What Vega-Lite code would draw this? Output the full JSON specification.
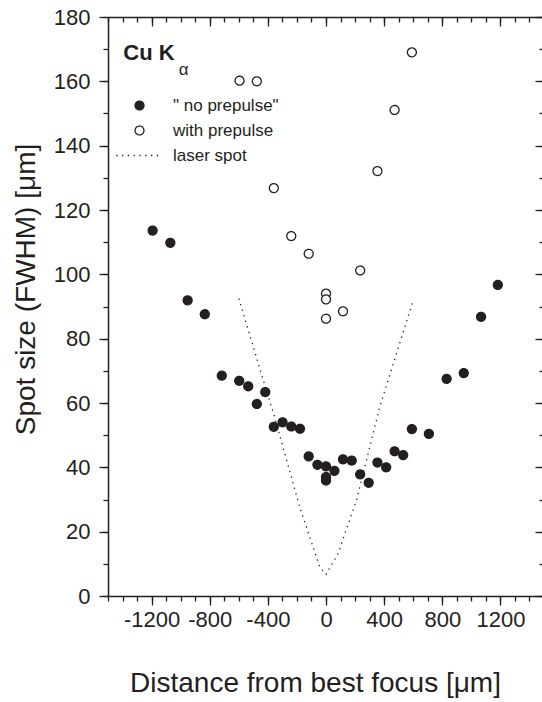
{
  "$schema": "https://vega.github.io/schema/vega-lite/v6.json",
  "width": 436,
  "height": 579,
  "autosize": {"type": "none"},
  "padding": {"left": 108, "top": 17, "right": 0, "bottom": 106},
  "background": "white",
  "config": {
    "view": {"stroke": null},
    "axis": {
      "grid": false,
      "domainColor": "#231f20",
      "tickColor": "#231f20",
      "domainWidth": 1.5,
      "tickWidth": 1.3,
      "labelFont": "Liberation Sans",
      "labelFontSize": 22,
      "labelColor": "#231f20",
      "titleFont": "Liberation Sans",
      "titleFontSize": 28,
      "titleFontWeight": "normal",
      "titleColor": "#231f20",
      "labelFlush": false,
      "labelOverlap": false
    },
    "legend": {
      "orient": "none",
      "legendX": 23,
      "legendY": 80,
      "padding": 0,
      "symbolSize": 80,
      "symbolStrokeColor": "#231f20",
      "symbolStrokeWidth": 1.3,
      "symbolOpacity": 1,
      "labelFont": "Liberation Sans",
      "labelFontSize": 17,
      "labelColor": "#231f20",
      "labelOffset": 25,
      "rowPadding": 7
    }
  },
  "datasets": {
    "pts": [
      {"series": "\" no prepulse\"", "x": -1193, "y": 113.6},
      {"series": "\" no prepulse\"", "x": -1071, "y": 109.8},
      {"series": "\" no prepulse\"", "x": -952, "y": 91.9},
      {"series": "\" no prepulse\"", "x": -834, "y": 87.6},
      {"series": "\" no prepulse\"", "x": -717, "y": 68.5},
      {"series": "\" no prepulse\"", "x": -597, "y": 66.9},
      {"series": "\" no prepulse\"", "x": -535, "y": 65.2},
      {"series": "\" no prepulse\"", "x": -476, "y": 59.7},
      {"series": "\" no prepulse\"", "x": -418, "y": 63.4},
      {"series": "\" no prepulse\"", "x": -359, "y": 52.6},
      {"series": "\" no prepulse\"", "x": -299, "y": 54.0},
      {"series": "\" no prepulse\"", "x": -239, "y": 52.7},
      {"series": "\" no prepulse\"", "x": -179, "y": 52.0},
      {"series": "\" no prepulse\"", "x": -119, "y": 43.4},
      {"series": "\" no prepulse\"", "x": -59, "y": 40.8},
      {"series": "\" no prepulse\"", "x": 0, "y": 40.3},
      {"series": "\" no prepulse\"", "x": 0, "y": 37.0},
      {"series": "\" no prepulse\"", "x": 0, "y": 35.9},
      {"series": "\" no prepulse\"", "x": 58, "y": 38.9},
      {"series": "\" no prepulse\"", "x": 117, "y": 42.5},
      {"series": "\" no prepulse\"", "x": 177, "y": 42.1},
      {"series": "\" no prepulse\"", "x": 235, "y": 37.8},
      {"series": "\" no prepulse\"", "x": 294, "y": 35.2},
      {"series": "\" no prepulse\"", "x": 354, "y": 41.5},
      {"series": "\" no prepulse\"", "x": 414, "y": 40.0},
      {"series": "\" no prepulse\"", "x": 472, "y": 45.0},
      {"series": "\" no prepulse\"", "x": 531, "y": 43.8},
      {"series": "\" no prepulse\"", "x": 591, "y": 51.9},
      {"series": "\" no prepulse\"", "x": 708, "y": 50.4},
      {"series": "\" no prepulse\"", "x": 830, "y": 67.5},
      {"series": "\" no prepulse\"", "x": 948, "y": 69.3},
      {"series": "\" no prepulse\"", "x": 1067, "y": 86.8},
      {"series": "\" no prepulse\"", "x": 1182, "y": 96.7},
      {"series": "\u00a0\u00a0with prepulse", "x": -595, "y": 160.2},
      {"series": "\u00a0\u00a0with prepulse", "x": -476, "y": 160.0},
      {"series": "\u00a0\u00a0with prepulse", "x": -359, "y": 126.8},
      {"series": "\u00a0\u00a0with prepulse", "x": -239, "y": 111.9},
      {"series": "\u00a0\u00a0with prepulse", "x": -119, "y": 106.4},
      {"series": "\u00a0\u00a0with prepulse", "x": 0, "y": 94.0},
      {"series": "\u00a0\u00a0with prepulse", "x": 0, "y": 92.2},
      {"series": "\u00a0\u00a0with prepulse", "x": 0, "y": 86.2},
      {"series": "\u00a0\u00a0with prepulse", "x": 117, "y": 88.5},
      {"series": "\u00a0\u00a0with prepulse", "x": 235, "y": 101.2},
      {"series": "\u00a0\u00a0with prepulse", "x": 354, "y": 132.1},
      {"series": "\u00a0\u00a0with prepulse", "x": 472, "y": 151.1},
      {"series": "\u00a0\u00a0with prepulse", "x": 591, "y": 169.0},
      {"series": "\u00a0\u00a0\u00a0laser spot", "x": -600, "y": 92.5},
      {"series": "\u00a0\u00a0\u00a0laser spot", "x": -411, "y": 64.0},
      {"series": "\u00a0\u00a0\u00a0laser spot", "x": -354, "y": 55.7},
      {"series": "\u00a0\u00a0\u00a0laser spot", "x": -181, "y": 27.7},
      {"series": "\u00a0\u00a0\u00a0laser spot", "x": -43, "y": 9.0},
      {"series": "\u00a0\u00a0\u00a0laser spot", "x": 0, "y": 6.7},
      {"series": "\u00a0\u00a0\u00a0laser spot", "x": 83, "y": 13.2},
      {"series": "\u00a0\u00a0\u00a0laser spot", "x": 210, "y": 29.8},
      {"series": "\u00a0\u00a0\u00a0laser spot", "x": 370, "y": 58.8},
      {"series": "\u00a0\u00a0\u00a0laser spot", "x": 600, "y": 92.0}
    ]
  },
  "data": {"name": "pts"},
  "resolve": {"axis": {"x": "independent", "y": "independent"}},
  "layer": [
    {
      "transform": [{"filter": "indexof(datum.series, 'laser spot') >= 0"}],
      "mark": {"type": "line", "stroke": "#231f20", "strokeWidth": 1.3, "strokeDash": [1.3, 4.5], "strokeCap": "butt"},
      "encoding": {
        "x": {
          "field": "x", "type": "quantitative",
          "scale": {"domain": [-1500, 1500], "nice": false, "zero": false},
          "axis": {
            "orient": "bottom",
            "values": [-1200, -800, -400, 0, 400, 800, 1200],
            "tickSize": 9,
            "labelPadding": 4,
            "labelExpr": "'' + datum.value",
            "title": "Distance from best focus [μm]",
            "titlePadding": 39,
            "titleX": 207
          }
        },
        "y": {
          "field": "y", "type": "quantitative",
          "scale": {"domain": [0, 180], "nice": false, "zero": false},
          "axis": {
            "orient": "left",
            "values": [0, 20, 40, 60, 80, 100, 120, 140, 160, 180],
            "tickSize": 9,
            "labelPadding": 9,
            "title": "Spot size (FWHM) [μm]",
            "titlePadding": 13,
            "titleY": 272
          }
        }
      }
    },
    {
      "transform": [{"filter": "indexof(datum.series, 'laser spot') < 0"}],
      "mark": {"type": "point", "stroke": "#231f20", "strokeWidth": 1.3, "size": 80, "opacity": 1},
      "encoding": {
        "x": {
          "field": "x", "type": "quantitative",
          "scale": {"domain": [-1500, 1500], "nice": false, "zero": false},
          "axis": {
            "orient": "bottom",
            "values": [-1500, -1400, -1300, -1200, -1100, -1000, -900, -800, -700, -600, -500, -400, -300, -200, -100, 0, 100, 200, 300, 400, 500, 600, 700, 800, 900, 1000, 1100, 1200, 1300, 1400, 1500],
            "tickSize": 5,
            "labels": false,
            "domain": false,
            "title": null
          }
        },
        "y": {
          "field": "y", "type": "quantitative",
          "scale": {"domain": [0, 180], "nice": false, "zero": false},
          "axis": {
            "orient": "left",
            "values": [0, 10, 20, 30, 40, 50, 60, 70, 80, 90, 100, 110, 120, 130, 140, 150, 160, 170, 180],
            "tickSize": 5,
            "labels": false,
            "domain": false,
            "title": null
          }
        },
        "shape": {
          "field": "series", "type": "nominal",
          "scale": {"domain": ["\" no prepulse\"", "\u00a0\u00a0with prepulse", "\u00a0\u00a0\u00a0laser spot"], "range": ["circle", "circle", "M-5.2,0H4.4"]},
          "legend": {"title": null, "encode": {"symbols": {"update": {"stroke": {"value": "#231f20"}, "strokeWidth": {"value": 1.3}}}}}
        },
        "fill": {
          "field": "series", "type": "nominal",
          "scale": {"domain": ["\" no prepulse\"", "\u00a0\u00a0with prepulse", "\u00a0\u00a0\u00a0laser spot"], "range": ["#231f20", "#ffffff", "transparent"]},
          "legend": {"title": null, "encode": {"symbols": {"update": {"stroke": {"value": "#231f20"}, "strokeWidth": {"value": 1.3}}}}}
        },
        "strokeDash": {
          "field": "series", "type": "nominal",
          "scale": {"domain": ["\" no prepulse\"", "\u00a0\u00a0with prepulse", "\u00a0\u00a0\u00a0laser spot"], "range": [[1, 0], [1, 0], [1.3, 4.5]]},
          "legend": {"title": null, "encode": {"symbols": {"update": {"stroke": {"value": "#231f20"}, "strokeWidth": {"value": 1.3}}}}}
        }
      }
    },
    {
      "data": {"values": [{"t": "α"}]},
      "mark": {"type": "text", "font": "Liberation Sans", "fontSize": 17, "fill": "#231f20", "align": "left", "baseline": "alphabetic"},
      "encoding": {
        "x": {
          "datum": -1014, "type": "quantitative",
          "scale": {"domain": [-1500, 1500], "nice": false, "zero": false},
          "axis": {
            "orient": "top",
            "values": [-1200, -800, -400, 0, 400, 800, 1200],
            "tickSize": -9,
            "labels": false,
            "title": null
          }
        },
        "y": {
          "datum": 162.1, "type": "quantitative",
          "scale": {"domain": [0, 180], "nice": false, "zero": false},
          "axis": {
            "orient": "right",
            "values": [0, 20, 40, 60, 80, 100, 120, 140, 160, 180],
            "tickSize": -9,
            "labels": false,
            "title": null
          }
        },
        "text": {"field": "t"}
      }
    },
    {
      "data": {"values": [{"t": "Cu K"}]},
      "mark": {"type": "text", "font": "Liberation Sans", "fontSize": 22, "fontWeight": "bold", "fill": "#231f20", "align": "left", "baseline": "alphabetic"},
      "encoding": {
        "x": {
          "datum": -1395, "type": "quantitative",
          "scale": {"domain": [-1500, 1500], "nice": false, "zero": false},
          "axis": {
            "orient": "top",
            "values": [-1500, -1400, -1300, -1200, -1100, -1000, -900, -800, -700, -600, -500, -400, -300, -200, -100, 0, 100, 200, 300, 400, 500, 600, 700, 800, 900, 1000, 1100, 1200, 1300, 1400, 1500],
            "tickSize": -5,
            "labels": false,
            "domain": false,
            "title": null
          }
        },
        "y": {
          "datum": 166.7, "type": "quantitative",
          "scale": {"domain": [0, 180], "nice": false, "zero": false},
          "axis": {
            "orient": "right",
            "values": [0, 10, 20, 30, 40, 50, 60, 70, 80, 90, 100, 110, 120, 130, 140, 150, 160, 170, 180],
            "tickSize": -5,
            "labels": false,
            "domain": false,
            "title": null
          }
        },
        "text": {"field": "t"}
      }
    }
  ]
}
